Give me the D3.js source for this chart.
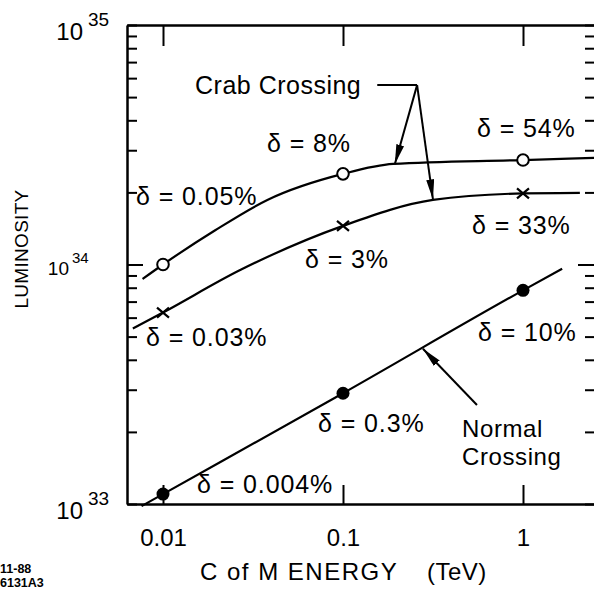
<!DOCTYPE html>
<html>
<head>
<meta charset="utf-8">
<script src="https://cdn.jsdelivr.net/npm/d3@7"></script>
<style>
body { margin: 0; background: #fff; }
svg { display: block; font-family: "Liberation Sans", Arial, Helvetica, sans-serif; }
</style>
</head>
<body>
<svg id="drawing_region"></svg>
<script>
// marker energies (TeV) and luminosities
const energies = [0.01, 0.1, 1];
const crabOpenValues = [1.0e34, 2.39e34, 2.73e34];
const crabCrossValues = [6.3e33, 1.45e34, 1.98e34];
const normalValues = [1.1e33, 2.9e33, 7.8e33];

// points along the drawn curves
const crabOpenCurveE = [0.0077, 0.01, 0.0195, 0.038, 0.1, 0.19, 1, 2.5];
const crabOpenCurveL = [8.7e33, 1.0e34, 1.39e34, 1.86e34, 2.39e34, 2.63e34, 2.73e34, 2.79e34];
const crabCrossCurveE = [0.0068, 0.01, 0.027, 0.1, 0.316, 1, 2.07];
const crabCrossCurveL = [5.4e33, 6.3e33, 9.5e33, 1.45e34, 1.86e34, 1.98e34, 1.99e34];
const normalCurveE = [0.0076, 0.01, 0.1, 1, 1.65];
const normalCurveL = [0.98e33, 1.1e33, 2.9e33, 7.8e33, 9.6e33];

const xTicks = [0.01, 0.1, 1];
const xTickLabels = ['0.01', '0.1', '1'];
const yMajorTicks = [1e33, 1e34, 1e35];
const yExponents = ['33', '34', '35'];
const yMinorTicks = [2, 3, 4, 5, 6, 7, 8, 9].flatMap(m => [m * 1e33, m * 1e34]);

const crabDeltas = ['δ = 0.05%', 'δ = 8%', 'δ = 54%'];
const crossDeltas = ['δ = 0.03%', 'δ = 3%', 'δ = 33%'];
const normalDeltas = ['δ = 0.004%', 'δ = 0.3%', 'δ = 10%'];

var config = {
    parent: '#drawing_region',
    width: 594,
    height: 592,
    margin: { left: 127, top: 25, right: -1, bottom: 88 }
};

class LumiChart {

    constructor( config ) {
        this.config = config;
        this.init();
    }

    init() {
        let self = this;
        let m = self.config.margin;

        self.svg = d3.select( self.config.parent )
            .attr('width', self.config.width)
            .attr('height', self.config.height);

        self.left = m.left;
        self.right = self.config.width - m.right;
        self.top = m.top;
        self.bottom = self.config.height - m.bottom;

        self.xscale = d3.scaleLog()
            .domain([Math.pow(10, -2.2), Math.pow(10, 0.4)])
            .range([self.left, self.right]);

        self.yscale = d3.scaleLog()
            .domain([1e33, 1e35])
            .range([self.bottom, self.top]);

        self.line = d3.line()
            .x( d => self.xscale(d[0]) )
            .y( d => self.yscale(d[1]) )
            .curve(d3.curveMonotoneX);

        let defs = self.svg.append('defs');
        defs.append('marker')
            .attr('id', 'head')
            .attr('viewBox', '0 0 20 8')
            .attr('refX', 20)
            .attr('refY', 4)
            .attr('markerUnits', 'userSpaceOnUse')
            .attr('markerWidth', 20)
            .attr('markerHeight', 8)
            .attr('orient', 'auto')
            .append('path')
            .attr('d', 'M0,0L20,4L0,8Z')
            .attr('fill', 'black');
    }

    render() {
        let self = this;
        self.drawAxes();
        self.drawCurves();
        self.drawLabels();
    }

    drawAxes() {
        let self = this;
        let yTicks = yMajorTicks.concat(yMinorTicks);

        let bottom = d3.axisBottom(self.xscale)
            .tickValues(xTicks)
            .tickFormat( (d, i) => xTickLabels[i] )
            .tickSizeInner(-19)
            .tickSizeOuter(0)
            .tickPadding(25);
        let top = d3.axisTop(self.xscale)
            .tickValues(xTicks)
            .tickFormat('')
            .tickSizeInner(-21)
            .tickSizeOuter(0);
        let left = d3.axisLeft(self.yscale)
            .tickValues(yTicks)
            .tickFormat('')
            .tickSizeInner(-10)
            .tickSizeOuter(0);
        let right = d3.axisRight(self.yscale)
            .tickValues(yTicks)
            .tickFormat('')
            .tickSizeInner(-10)
            .tickSizeOuter(0);

        let gb = self.svg.append('g')
            .attr('transform', `translate(0, ${self.bottom})`)
            .call(bottom);
        gb.selectAll('text')
            .attr('font-size', 24)
            .attr('font-family', null);

        self.svg.append('g')
            .attr('transform', `translate(0, ${self.top})`)
            .call(top);
        let gl = self.svg.append('g')
            .attr('transform', `translate(${self.left}, 0)`)
            .call(left);
        let gr = self.svg.append('g')
            .attr('transform', `translate(${self.right}, 0)`)
            .call(right);

        gl.selectAll('.tick line').filter( d => d === 1e34 ).attr('x2', 16);
        gr.selectAll('.tick line').filter( d => d === 1e34 ).attr('x2', -17);

        self.svg.selectAll('.domain').attr('stroke-width', 2.5);
        self.svg.selectAll('.tick line').attr('stroke-width', 2);

        // y major tick labels: 10 with exponent
        yMajorTicks.forEach( (v, i) => {
            let small = (v === 1e34);
            let y = self.yscale(v);
            self.svg.append('text')
                .attr('x', small ? 69 : 83)
                .attr('y', small ? y + 10 : y + 15)
                .attr('text-anchor', 'end')
                .attr('font-size', small ? 19 : 24)
                .text('10');
            self.svg.append('text')
                .attr('x', small ? 72 : 88)
                .attr('y', small ? y - 2 : y + 1)
                .attr('font-size', small ? 15 : 19)
                .text(yExponents[i]);
        });

        self.svg.append('text')
            .attr('transform', 'translate(28, 249) rotate(-90)')
            .attr('text-anchor', 'middle')
            .attr('font-size', 19)
            .attr('letter-spacing', 0.3)
            .text('LUMINOSITY');

        self.svg.append('text')
            .attr('x', 200)
            .attr('y', 580)
            .attr('font-size', 24)
            .attr('letter-spacing', 1.5)
            .text('C of M ENERGY');
        self.svg.append('text')
            .attr('x', 427)
            .attr('y', 580)
            .attr('font-size', 24)
            .attr('letter-spacing', 0.5)
            .text('(TeV)');

        let stamp = self.svg.append('text')
            .attr('font-size', 12.5)
            .attr('font-weight', 'bold');
        stamp.append('tspan').attr('x', 0).attr('y', 573).text('11-88');
        stamp.append('tspan').attr('x', 0).attr('y', 587).text('6131A3');
    }

    drawCurves() {
        let self = this;
        let curves = [
            d3.zip(crabOpenCurveE, crabOpenCurveL),
            d3.zip(crabCrossCurveE, crabCrossCurveL),
            d3.zip(normalCurveE, normalCurveL)
        ];

        self.svg.selectAll('path.curve')
            .data(curves)
            .enter()
            .append('path')
            .attr('class', 'curve')
            .attr('d', self.line)
            .attr('fill', 'none')
            .attr('stroke', 'black')
            .attr('stroke-width', 2.2);

        self.svg.selectAll('circle.open')
            .data(d3.zip(energies, crabOpenValues))
            .enter()
            .append('circle')
            .attr('class', 'open')
            .attr('cx', d => self.xscale(d[0]))
            .attr('cy', d => self.yscale(d[1]))
            .attr('r', 5.8)
            .attr('fill', 'white')
            .attr('stroke', 'black')
            .attr('stroke-width', 2);

        self.svg.selectAll('path.cross')
            .data(d3.zip(energies, crabCrossValues))
            .enter()
            .append('path')
            .attr('class', 'cross')
            .attr('transform', d => `translate(${self.xscale(d[0])}, ${self.yscale(d[1])})`)
            .attr('d', 'M-6,-5L6,5M-6,5L6,-5')
            .attr('stroke', 'black')
            .attr('stroke-width', 2.2);

        self.svg.selectAll('circle.filled')
            .data(d3.zip(energies, normalValues))
            .enter()
            .append('circle')
            .attr('class', 'filled')
            .attr('cx', d => self.xscale(d[0]))
            .attr('cy', d => self.yscale(d[1]))
            .attr('r', 6.5)
            .attr('fill', 'black');
    }

    drawLabels() {
        let self = this;
        let fs = 25;

        let deltaLabels = [
            { text: crabDeltas[0], x: 136, y: 205 },
            { text: crabDeltas[1], x: 267, y: 152 },
            { text: crabDeltas[2], x: 477, y: 137 },
            { text: crossDeltas[0], x: 146, y: 346 },
            { text: crossDeltas[1], x: 305, y: 268 },
            { text: crossDeltas[2], x: 472, y: 234 },
            { text: normalDeltas[0], x: 197, y: 493 },
            { text: normalDeltas[1], x: 318, y: 432 },
            { text: normalDeltas[2], x: 478, y: 341 }
        ];

        self.svg.selectAll('text.delta')
            .data(deltaLabels)
            .enter()
            .append('text')
            .attr('class', 'delta')
            .attr('x', d => d.x)
            .attr('y', d => d.y)
            .attr('font-size', fs)
            .attr('letter-spacing', 0.9)
            .text(d => d.text);

        self.svg.append('text')
            .attr('x', 195)
            .attr('y', 94)
            .attr('font-size', fs)
            .attr('letter-spacing', 0.5)
            .text('Crab Crossing');

        let normal = self.svg.append('text')
            .attr('font-size', 24)
            .attr('letter-spacing', 0.6);
        normal.append('tspan').attr('x', 462).attr('y', 437).text('Normal');
        normal.append('tspan').attr('x', 462).attr('y', 465).text('Crossing');

        // annotation arrows, in data units
        let x = self.xscale, y = self.yscale;
        let elbow = [0.258, 5.61e34];
        self.svg.append('line')
            .attr('x1', x(0.155)).attr('y1', y(5.61e34))
            .attr('x2', x(elbow[0])).attr('y2', y(elbow[1]))
            .attr('stroke', 'black').attr('stroke-width', 2);

        let arrows = [
            [elbow, [0.194, 2.62e34]],
            [elbow, [0.316, 1.87e34]],
            [[0.555, 2.59e33], [0.278, 4.45e33]]
        ];
        self.svg.selectAll('line.arrow')
            .data(arrows)
            .enter()
            .append('line')
            .attr('class', 'arrow')
            .attr('x1', d => x(d[0][0]))
            .attr('y1', d => y(d[0][1]))
            .attr('x2', d => x(d[1][0]))
            .attr('y2', d => y(d[1][1]))
            .attr('stroke', 'black')
            .attr('stroke-width', 2)
            .attr('marker-end', 'url(#head)');
    }
}

const chart = new LumiChart( config );
chart.render();
</script>
</body>
</html>
